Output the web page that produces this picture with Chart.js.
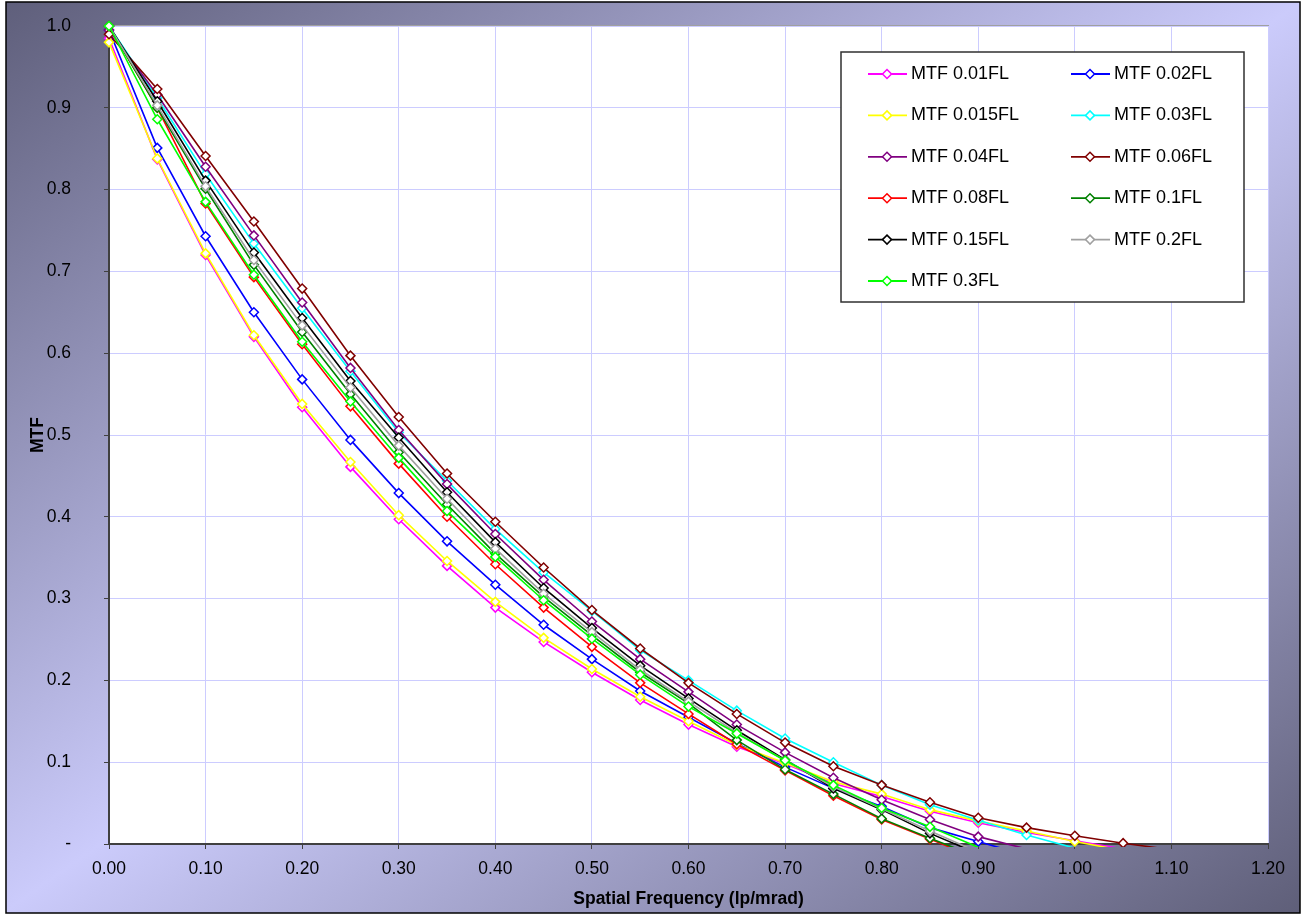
<!DOCTYPE html>
<html>
<head>
<meta charset="utf-8">
<script src="https://cdn.jsdelivr.net/npm/chart.js@4.4.1/dist/chart.umd.min.js"></script>
<style>
  html, body { margin: 0; padding: 0; background: #fff; }
  #wrap { width: 1304px; height: 915px; }
</style>
</head>
<body>
<div id="wrap"><canvas id="myChart" width="1304" height="915"></canvas></div>
<script>
// spatial frequency (lp/mrad)
const freqs = [0, 0.05, 0.10, 0.15, 0.20, 0.25, 0.30, 0.35, 0.40, 0.45, 0.50,
  0.55, 0.60, 0.65, 0.70, 0.75, 0.80, 0.85, 0.90, 0.95, 1.00, 1.05, 1.10];

const seriesNames = ["MTF 0.01FL", "MTF 0.02FL", "MTF 0.015FL", "MTF 0.03FL", "MTF 0.04FL",
  "MTF 0.06FL", "MTF 0.08FL", "MTF 0.1FL", "MTF 0.15FL", "MTF 0.2FL", "MTF 0.3FL"];
const seriesColors = ["#ff00ff", "#0000ff", "#ffff00", "#00ffff", "#800080",
  "#800000", "#ff0000", "#008000", "#000000", "#a0a0a0", "#00ff00"];

const mtf001 = [0.985, 0.837, 0.720, 0.620, 0.534, 0.461, 0.397, 0.340, 0.289, 0.247, 0.210,
  0.176, 0.146, 0.119, 0.098, 0.074, 0.058, 0.040, 0.026, 0.014, 0.004, -0.006];
const mtf002 = [0.995, 0.851, 0.743, 0.650, 0.568, 0.494, 0.429, 0.370, 0.317, 0.268, 0.226,
  0.187, 0.155, 0.123, 0.094, 0.068, 0.046, 0.020, 0.003, -0.014];
const mtf0015 = [0.980, 0.838, 0.722, 0.622, 0.538, 0.467, 0.402, 0.346, 0.296, 0.252, 0.214,
  0.180, 0.150, 0.121, 0.099, 0.076, 0.061, 0.042, 0.028, 0.016, 0.003, -0.008];
const mtf003 = [1.0, 0.912, 0.819, 0.734, 0.655, 0.578, 0.503, 0.444, 0.385, 0.332, 0.285,
  0.237, 0.200, 0.163, 0.129, 0.100, 0.072, 0.048, 0.029, 0.011, -0.005];
const mtf004 = [0.995, 0.916, 0.828, 0.744, 0.662, 0.582, 0.506, 0.440, 0.379, 0.323, 0.272,
  0.226, 0.186, 0.146, 0.112, 0.081, 0.054, 0.030, 0.009, -0.006];
const mtf006 = [0.990, 0.923, 0.841, 0.761, 0.679, 0.597, 0.522, 0.453, 0.394, 0.338, 0.286,
  0.239, 0.197, 0.159, 0.124, 0.095, 0.072, 0.051, 0.032, 0.020, 0.010, 0.001, -0.007];
const mtf008 = [1.0, 0.900, 0.783, 0.693, 0.611, 0.535, 0.465, 0.400, 0.342, 0.289, 0.241,
  0.197, 0.159, 0.122, 0.090, 0.059, 0.030, 0.006, -0.018];
const mtf01 = [1.0, 0.900, 0.801, 0.708, 0.626, 0.550, 0.479, 0.415, 0.355, 0.302, 0.255,
  0.210, 0.172, 0.127, 0.091, 0.061, 0.031, 0.007, -0.016];
const mtf015 = [1.0, 0.908, 0.811, 0.723, 0.643, 0.566, 0.497, 0.430, 0.369, 0.313, 0.264,
  0.218, 0.178, 0.139, 0.103, 0.068, 0.042, 0.013, -0.012];
const mtf02 = [1.0, 0.903, 0.804, 0.714, 0.634, 0.558, 0.487, 0.422, 0.361, 0.306, 0.259,
  0.213, 0.174, 0.136, 0.102, 0.070, 0.043, 0.016, -0.010];
const mtf03 = [1.0, 0.886, 0.785, 0.696, 0.614, 0.541, 0.472, 0.407, 0.351, 0.298, 0.251,
  0.207, 0.168, 0.135, 0.102, 0.072, 0.044, 0.021, -0.004];

const seriesValues = [mtf001, mtf002, mtf0015, mtf003, mtf004, mtf006, mtf008, mtf01, mtf015, mtf02, mtf03];

const xTicks = [0, 0.1, 0.2, 0.3, 0.4, 0.5, 0.6, 0.7, 0.8, 0.9, 1.0, 1.1, 1.2];
const yTicks = [0, 0.1, 0.2, 0.3, 0.4, 0.5, 0.6, 0.7, 0.8, 0.9, 1.0];

const FONT = "'Liberation Sans', Arial, sans-serif";

var datasets = [];
for (let i = 0; i < seriesNames.length; i++) {
  datasets.push({
    label: seriesNames[i],
    data: seriesValues[i].map((v, j) => ({ x: freqs[j], y: v })),
    borderColor: seriesColors[i],
    backgroundColor: "#ffffff",
    borderWidth: 1.6,
    pointStyle: "rectRot",
    // no marker where the curve has dropped below the axis
    pointRadius: (c) => (c.raw && c.raw.y < 0 ? 0 : 4.5),
    pointBorderWidth: 1.5,
    pointBackgroundColor: "#ffffff",
    pointBorderColor: seriesColors[i],
    tension: 0,
    clip: { left: 6, top: 6, right: 0, bottom: 3 },
    order: seriesNames.length - i,
  });
}

// gradient page background + white plot area
const backdrop = {
  id: "backdrop",
  beforeDraw(chart) {
    const { ctx, width, height, chartArea: a } = chart;
    ctx.save();
    ctx.fillStyle = "#ffffff";
    ctx.fillRect(0, 0, width, height);
    const k = (width * height) / (width * width + height * height);
    const cx = width / 2, cy = height / 2;
    const g = ctx.createLinearGradient(cx - k * height, cy - k * width, cx + k * height, cy + k * width);
    g.addColorStop(0, "#5e5e7a");
    g.addColorStop(0.5, "#cbcbfb");
    g.addColorStop(1, "#5e5e78");
    ctx.fillStyle = g;
    ctx.fillRect(6, 2, 1294, 911);
    ctx.strokeStyle = "#000000";
    ctx.lineWidth = 1.5;
    ctx.strokeRect(6, 2, 1294, 911);
    ctx.fillStyle = "#ffffff";
    ctx.fillRect(a.left, a.top, a.right - a.left, a.bottom - a.top);
    ctx.strokeStyle = "#a0a0a0";
    ctx.lineWidth = 1;
    ctx.strokeRect(a.left, a.top - 0.5, a.right - a.left + 0.5, a.bottom - a.top);
    ctx.restore();
  },
};

// legend box drawn inside the plot
const boxLegend = {
  id: "boxLegend",
  afterDraw(chart) {
    const ctx = chart.ctx;
    const left = 841, top = 52, right = 1244, bottom = 302;
    ctx.save();
    ctx.fillStyle = "#ffffff";
    ctx.fillRect(left, top, right - left, bottom - top);
    ctx.strokeStyle = "#303030";
    ctx.lineWidth = 1.5;
    ctx.strokeRect(left, top, right - left, bottom - top);
    ctx.font = "18px " + FONT;
    ctx.textBaseline = "middle";
    ctx.textAlign = "left";
    for (let i = 0; i < seriesNames.length; i++) {
      const col = i % 2, row = Math.floor(i / 2);
      const y = 74 + row * 41.4;
      const x0 = col === 0 ? 868 : 1071;
      ctx.strokeStyle = seriesColors[i];
      ctx.lineWidth = 1.8;
      ctx.beginPath();
      ctx.moveTo(x0, y);
      ctx.lineTo(x0 + 39, y);
      ctx.stroke();
      ctx.fillStyle = "#ffffff";
      ctx.lineWidth = 1.5;
      ctx.beginPath();
      ctx.moveTo(x0 + 19, y - 4.5);
      ctx.lineTo(x0 + 23.5, y);
      ctx.lineTo(x0 + 19, y + 4.5);
      ctx.lineTo(x0 + 14.5, y);
      ctx.closePath();
      ctx.fill();
      ctx.stroke();
      ctx.fillStyle = "#000000";
      ctx.fillText(seriesNames[i], x0 + 43, y);
    }
    ctx.restore();
  },
};

var ctx = document.getElementById("myChart");
var myChart = new Chart(ctx, {
  type: "line",
  data: { datasets: datasets },
  options: {
    responsive: false,
    animation: false,
    layout: { padding: { left: 0, right: 36, top: 26, bottom: 0 } },
    plugins: { legend: { display: false }, tooltip: { enabled: false } },
    scales: {
      x: {
        type: "linear",
        min: 0,
        max: 1.2,
        afterBuildTicks: (scale) => { scale.ticks = xTicks.map((v) => ({ value: v })); },
        afterFit: (scale) => { scale.height = 71; },
        ticks: {
          color: "#000000",
          font: { family: FONT, size: 17.5 },
          padding: 10,
          maxRotation: 0,
          callback: (v) => Number(v).toFixed(2),
        },
        grid: { color: "#ccccff", lineWidth: 1, tickColor: "#404040", tickLength: 5 },
        border: { color: "#404040", width: 2 },
        title: {
          display: true,
          text: "Spatial Frequency (lp/mrad)",
          color: "#000000",
          font: { family: FONT, size: 17.5, weight: "bold" },
          padding: { top: 0, bottom: 5 },
        },
      },
      y: {
        type: "linear",
        min: 0,
        max: 1,
        afterBuildTicks: (scale) => { scale.ticks = yTicks.map((v) => ({ value: v })); },
        afterFit: (scale) => {
          scale.width = 109;
          scale.paddingTop = 0;
          scale.paddingBottom = 0;
        },
        ticks: {
          color: "#000000",
          font: { family: FONT, size: 17.5 },
          padding: 33,
          callback: (v) => (v === 0 ? "-" : Number(v).toFixed(1)),
        },
        grid: { color: "#ccccff", lineWidth: 1, tickColor: "#404040", tickLength: 5 },
        border: { color: "#404040", width: 2 },
        title: {
          display: true,
          text: "MTF",
          color: "#000000",
          font: { family: FONT, size: 17.5, weight: "bold" },
          padding: { top: 28, bottom: 0 },
        },
      },
    },
  },
  plugins: [backdrop, boxLegend],
});
</script>
</body>
</html>
